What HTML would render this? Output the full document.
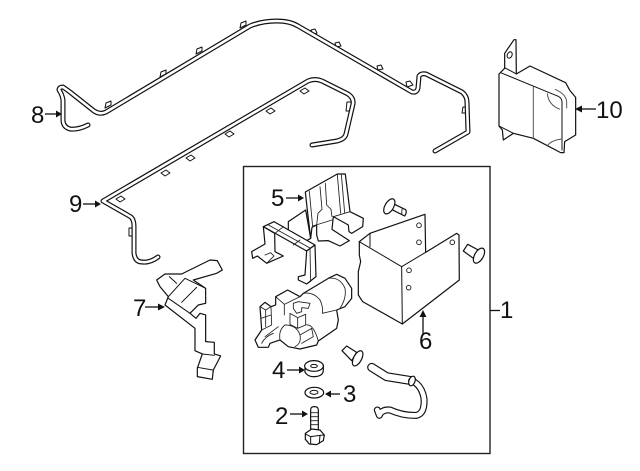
<!DOCTYPE html>
<html><head><meta charset="utf-8"><style>
html,body{margin:0;padding:0;background:#fff;width:640px;height:471px;overflow:hidden}
svg{display:block}
text{font-family:"Liberation Sans",sans-serif;font-size:24px;fill:#111}
.z{fill:#fff;stroke:#111;stroke-width:3.6;stroke-linejoin:round;stroke-linecap:round}
.n{fill:none;stroke:#111;stroke-width:3;stroke-linejoin:round;stroke-linecap:round}
.p{fill:none;stroke:#222;stroke-width:2.6;stroke-linejoin:round;stroke-linecap:round}
.g{fill:none;stroke:#555;stroke-width:3}
.o{fill:none;stroke:#111;stroke-linejoin:round;stroke-linecap:round}
.i{fill:none;stroke:#fff;stroke-linejoin:round;stroke-linecap:round}
.l{stroke:#111;stroke-width:1.3;fill:none}
</style></head><body>
<svg width="640" height="471" viewBox="0 0 640 471" xmlns="http://www.w3.org/2000/svg">
<rect width="640" height="471" fill="#fff"/>

<!-- clips on tube 8 -->
<g class="z" style="stroke-width:1">
<path d="M105 108l1-5 5-2 0 4z"/><path d="M160 77l1-5 5-2 0 4z"/><path d="M196 54l1-5 5-2 0 4z"/><path d="M240 28l1-5 5-2 0 4z"/>
<path d="M313 35l-2-5 4-1 2 4z"/><path d="M336 47l-1-4 4-1 2 4z"/><path d="M378 70l-1-4 4-1 2 4z"/><path d="M407 87l-1-5 4-1 3 4z"/><path d="M462 113l1-6 3 0 0 6z"/>
</g>
<!-- tube 8 -->
<path class="o" stroke-width="5" d="M88 125Q78 130 70 129Q63 127 63 120L63 100Q62 94 59 90Q59 87 63 87L70 92L94 111Q100 115 106 112L250 26Q262 21 277 21Q290 21 298 26L412 92Q417 93 418 88L419 76Q421 73 426 74L462 92Q467 96 467 102L468 132L435 151"/>
<path class="i" stroke-width="2.6" d="M88 125Q78 130 70 129Q63 127 63 120L63 100Q62 94 59 90Q59 87 63 87L70 92L94 111Q100 115 106 112L250 26Q262 21 277 21Q290 21 298 26L412 92Q417 93 418 88L419 76Q421 73 426 74L462 92Q467 96 467 102L468 132L435 151"/>

<!-- clips on tube 9 -->
<g class="z" style="stroke-width:1">
<path d="M300 91l5-3 4 3-5 3z"/><path d="M266 111l5-3 4 3-5 3z"/><path d="M225 134l5-3 4 3-5 3z"/><path d="M186 158l5-3 4 3-5 3z"/><path d="M161 173l5-3 4 3-5 3z"/><path d="M116 199l5-3 4 3-5 3z"/>
<path d="M347 102l4 0 0 9-5 0z"/><path d="M129 228l4 0 0 8-4 0z"/>
</g>
<!-- tube 9 -->
<path class="o" stroke-width="5" d="M312 145L337 141Q345 139 346 134L353 104Q354 98 348 94L322 81Q315 78 308 81L103 201L131 217Q134 220 134 226L134 253Q135 262 142 262Q150 263 158 257"/>
<path class="i" stroke-width="2.6" d="M312 145L337 141Q345 139 346 134L353 104Q354 98 348 94L322 81Q315 78 308 81L103 201L131 217Q134 220 134 226L134 253Q135 262 142 262Q150 263 158 257"/>

<!-- part 10 -->
<g transform="translate(490,30) scale(.3333)">
<path class="z" d="M44 70L72 29L78 29L79 132L120 108L227 158L240 182L257 202L257 315L224 335L222 368L212 368L130 325L70 310L40 330L37 300L27 288L27 132L44 115Z"/>
<ellipse class="n" cx="59" cy="75" rx="7" ry="10" transform="rotate(25 59 75)"/>
<path class="n" d="M44 113L79 132M32 128L200 197Q215 202 216 215L216 360"/>
<path class="g" d="M130 170L130 325M195 178Q228 192 230 215L230 235M172 190Q175 225 210 238M172 347Q185 330 216 327"/>
<path class="n" d="M27 288L70 310"/>
</g>

<!-- box -->
<rect x="243.5" y="166.5" width="246.5" height="287" fill="none" stroke="#222" stroke-width="1.4"/>

<!-- part 7 -->
<g transform="translate(60,170) scale(.3333)">
<path class="z" d="M315 405L325 380L300 350L290 330L315 312L365 312L450 270L472 272L487 300L470 310L400 330L437 355L437 400L415 405L390 430L408 445L420 430L437 435L437 515L463 517L463 552L482 558L460 600L457 628L412 620L412 595L427 552L405 542L405 475Z"/>
<path class="n" d="M325 380L375 325L437 355M325 385L390 430M365 397L410 352M328 320L350 340M427 552L463 556M412 592L458 600"/>
</g>

<!-- part 5 -->
<g transform="translate(250,170) scale(.3333)">
<path class="z" d="M115 155L167 120L182 205L165 215L115 185Z"/>
<path class="z" d="M166 66L262 12L286 12L300 125L340 145L338 170L305 190L297 185L295 165L250 140L246 178L298 212L270 228L235 212L205 213L200 195L200 165L186 172L182 205L172 120Z"/>
<path class="p" d="M178 64L188 170M210 50L216 118L204 130L200 165M226 40L230 105L243 118L246 140M262 14L272 130M274 13L284 128M250 140L300 125M188 168Q215 160 246 150"/>
<path class="z" d="M40 170L45 222L5 245L8 265L22 258L50 280L100 258L75 245L74 190Z"/>
<path class="z" d="M40 170L72 155L195 225L170 243Z"/>
<path class="z" d="M170 243L195 225L198 320L170 342L145 330L145 320L165 315Z"/>
<path class="p" d="M52 163L182 235M100 170L75 190M150 210L130 225M180 236L182 335M45 255L62 248L72 258L50 280"/>
</g>

<!-- bracket 6 -->
<g transform="translate(240,165) scale(.3333)">
<path class="z" d="M358 230L390 205L555 148L557 262L650 205L657 210L658 345L487 477L368 410L355 390L355 320L362 290L358 270Z"/>
<path class="n" d="M358 230L485 305L557 262M485 305L487 477M390 205L390 245"/>
<g class="n" style="stroke-width:2.6"><circle cx="537" cy="181" r="7"/><circle cx="537" cy="232" r="7"/><circle cx="637" cy="232" r="7"/><circle cx="507" cy="316" r="7"/><circle cx="506" cy="368" r="7"/></g>
<!-- screw top -->
<path class="z" d="M460 116L497 134Q502 142 494 153L456 134Z"/>
<ellipse class="z" cx="448" cy="124" rx="13" ry="25" transform="rotate(30 448 124)"/>
<path class="p" d="M487 130Q484 140 486 149"/>
<!-- screw right -->
<path class="z" d="M670 258L683 238L715 255L700 280Z"/>
<ellipse class="z" cx="717" cy="272" rx="13" ry="25" transform="rotate(30 717 272)"/>
</g>

<!-- pump -->
<g transform="translate(245,265) scale(.3333)">
<path class="z" d="M175 85L250 40L275 28L300 40L320 70L320 100L300 125L275 135L280 165L275 190L220 228L215 240L165 252L130 245L105 225L75 235L70 247L40 247L30 225L50 195L45 125L60 112L78 125L92 120L92 95L128 75L165 95Z"/>
<path class="p" d="M175 85Q205 80 225 105Q235 125 232 145L275 135M250 40Q285 35 300 70Q305 100 285 130M92 95L118 118L165 95M118 118L118 150M45 125L62 135L78 125M62 135L62 185M48 160L78 150M78 125L80 180L50 195M145 115L160 110L195 115L190 130L170 128L170 140L155 145L145 130ZM135 145L158 158L182 148L182 180L158 190L135 178ZM158 158L158 190M105 225Q100 195 120 180Q155 180 165 210Q170 235 150 245M165 210L200 190L205 215L170 235M182 180Q205 175 220 228M60 215L100 185M50 235Q60 215 85 205"/>
</g>

<g transform="translate(240,290) scale(.3333)">
<!-- screw centre -->
<path class="z" d="M306 182L320 168L350 187L335 212Z"/>
<ellipse class="z" cx="353" cy="205" rx="12" ry="25" transform="rotate(28 353 205)"/>
<!-- hose -->
<path class="o" stroke-width="27" d="M395 232L440 260L515 272"/>
<path class="i" stroke-width="20" d="M395 232L440 260L515 272"/>
<path class="o" stroke-width="21" d="M515 272Q545 285 552 325Q555 370 530 376Q490 378 450 360Q425 358 418 376L412 360"/>
<path class="i" stroke-width="14" d="M515 272Q545 285 552 325Q555 370 530 376Q490 378 450 360Q425 358 418 376L412 360"/>
<ellipse class="z" cx="516" cy="273" rx="9" ry="15" transform="rotate(20 516 273)"/>
<!-- washer 4 -->
<path class="z" d="M195 225L195 247Q205 262 225 260Q250 258 250 240L250 225Z"/>
<ellipse class="z" cx="222" cy="228" rx="28" ry="16"/>
<ellipse class="n" cx="222" cy="228" rx="10" ry="5"/>
<!-- washer 3 -->
<ellipse class="z" cx="223" cy="308" rx="28" ry="16"/>
<ellipse class="n" cx="222" cy="307" rx="12" ry="6"/>
<!-- bolt -->
<path class="z" d="M212 360Q212 350 223 350Q235 350 235 360L235 420L212 420Z"/>
<path class="p" d="M212 368L235 368M212 380L235 380M212 392L235 392M212 404L235 404"/>
<path class="z" d="M196 430L215 417L240 420L253 435L250 452L230 464L208 462L196 448Z"/>
<path class="n" d="M196 432L212 440L240 436L253 435M212 440L212 462M240 436L238 460"/>
</g>

<!-- leaders -->
<g class="l">
<path d="M45 114L58 114"/><path d="M83 204L97 204"/><path d="M145 307L158 307"/>
<path d="M286 198L300 198"/><path d="M287 370L302 370"/><path d="M326 394L340 394"/>
<path d="M290 414L304 414"/><path d="M423 335L423 317"/><path d="M580 109L596 109"/><path d="M490 310.5L500 310.5"/>
</g>
<g fill="#111">
<path d="M62 114l-6-3.5v7z"/><path d="M101 204l-6-3.5v7z"/><path d="M165 307l-7-3.5v7z"/>
<path d="M304 198l-6-3.500v7z"/><path d="M305 370l-6-3.5v7z"/><path d="M325 394l6-3.5v7z"/>
<path d="M308 414l-6-3.5v7z"/><path d="M423 310l-3.5 7h7z"/><path d="M575 109l7-3.5v7z"/>
</g>

<!-- labels -->
<text x="31" y="123">8</text>
<text x="69" y="212">9</text>
<text x="133" y="316">7</text>
<text x="271" y="206">5</text>
<text x="272" y="378">4</text>
<text x="343" y="402">3</text>
<text x="275" y="424">2</text>
<text x="419" y="349">6</text>
<text x="500" y="318">1</text>
<text x="596" y="118">10</text>
</svg>
</body></html>
